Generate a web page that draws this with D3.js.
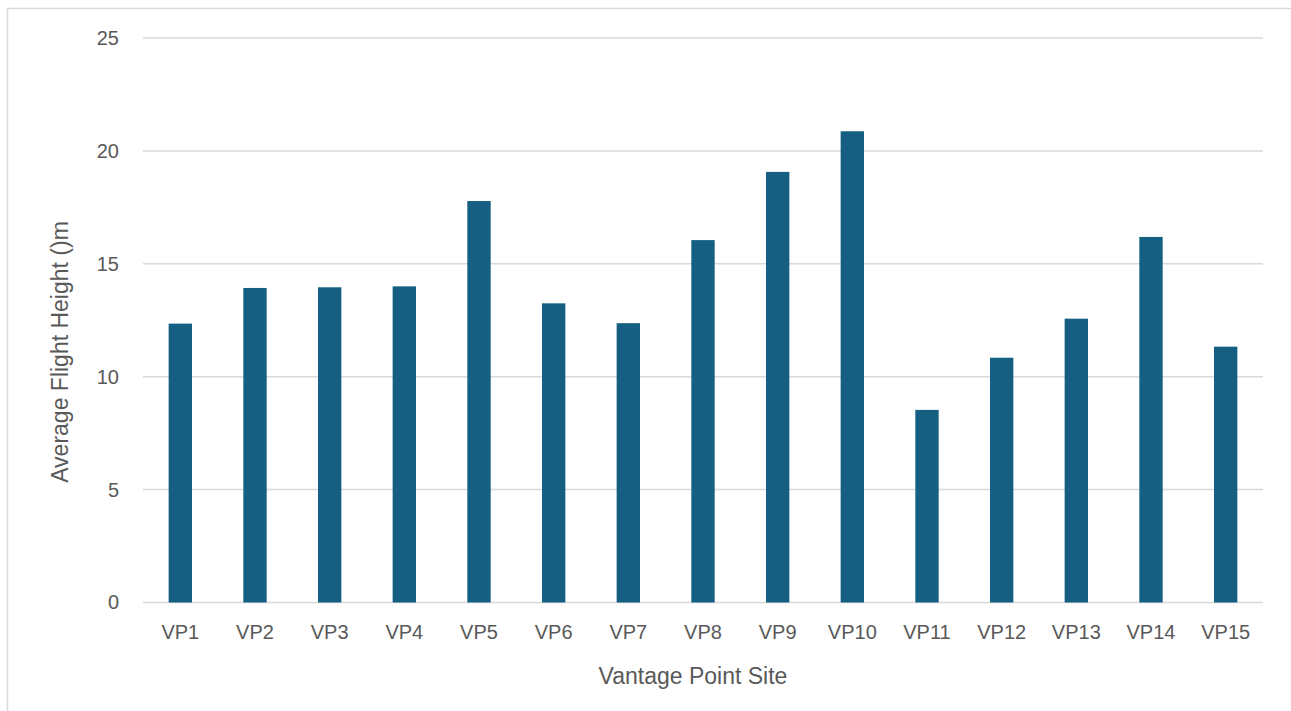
<!DOCTYPE html>
<html>
<head>
<meta charset="utf-8">
<script src="https://cdn.jsdelivr.net/npm/d3@7"></script>
<style>
  html, body { margin: 0; padding: 0; background: #fff; }
  svg { display: block; }
  text { font-family: "Liberation Sans", Arial, sans-serif; fill: #595959; }
</style>
</head>
<body>
<svg id="chart" width="1291" height="711"></svg>
<script>
// Average flight height per vantage point site
const sites = ["VP1","VP2","VP3","VP4","VP5","VP6","VP7","VP8","VP9","VP10","VP11","VP12","VP13","VP14","VP15"];
const heights = [12.35, 13.93, 13.96, 14.0, 17.78, 13.25, 12.37, 16.05, 19.07, 20.87, 8.53, 10.84, 12.57, 16.19, 11.33];
const yTicks = [0, 5, 10, 15, 20, 25];

const W = 1291, H = 711;
const m = { left: 143, right: 28, top: 38, bottom: 109 };

const svg = d3.select("#chart");

// chart frame (only top and left edges fall inside the view)
svg.append("rect")
  .attr("x", 7.5).attr("y", 8.5)
  .attr("width", W + 20).attr("height", H + 20)
  .attr("fill", "#fff").attr("stroke", "#d9d9d9").attr("stroke-width", 1.5);

const x = d3.scaleBand()
  .domain(sites)
  .range([m.left, W - m.right])
  .paddingInner(0.687)
  .paddingOuter(0.3435);

const y = d3.scaleLinear()
  .domain([0, 25])
  .range([H - m.bottom + 0.5, m.top]);

// horizontal gridlines
svg.append("g")
  .selectAll("line")
  .data(yTicks)
  .join("line")
  .attr("x1", m.left).attr("x2", W - m.right)
  .attr("y1", d => y(d)).attr("y2", d => y(d))
  .attr("stroke", "#d9d9d9").attr("stroke-width", 1.5);

// y tick labels
const yAxis = svg.append("g")
  .attr("transform", `translate(${m.left},0)`)
  .call(d3.axisLeft(y).tickValues(yTicks).tickSize(0).tickPadding(24));
yAxis.select(".domain").remove();
yAxis.selectAll("text")
  .style("font-family", '"Liberation Sans", Arial, sans-serif')
  .style("font-size", "20px").attr("fill", "#595959");

// bars
svg.append("g")
  .selectAll("rect")
  .data(heights)
  .join("rect")
  .attr("x", (d, i) => x(sites[i]))
  .attr("width", x.bandwidth())
  .attr("y", d => y(d))
  .attr("height", d => y(0) - y(d))
  .attr("fill", "#156082");

// x tick labels
const xAxis = svg.append("g")
  .attr("transform", `translate(0,${y(0)})`)
  .call(d3.axisBottom(x).tickSize(0).tickPadding(22));
xAxis.select(".domain").remove();
xAxis.selectAll("text")
  .style("font-family", '"Liberation Sans", Arial, sans-serif')
  .style("font-size", "20px").attr("fill", "#595959");

// axis titles
svg.append("text")
  .attr("x", 693)
  .attr("y", 676)
  .attr("text-anchor", "middle")
  .attr("dominant-baseline", "central")
  .style("font-size", "23px")
  .text("Vantage Point Site");

svg.append("text")
  .attr("transform", "translate(60,352) rotate(-90)")
  .attr("text-anchor", "middle")
  .attr("dominant-baseline", "central")
  .style("font-size", "23px")
  .text("Average Flight Height ()m");
</script>
</body>
</html>
